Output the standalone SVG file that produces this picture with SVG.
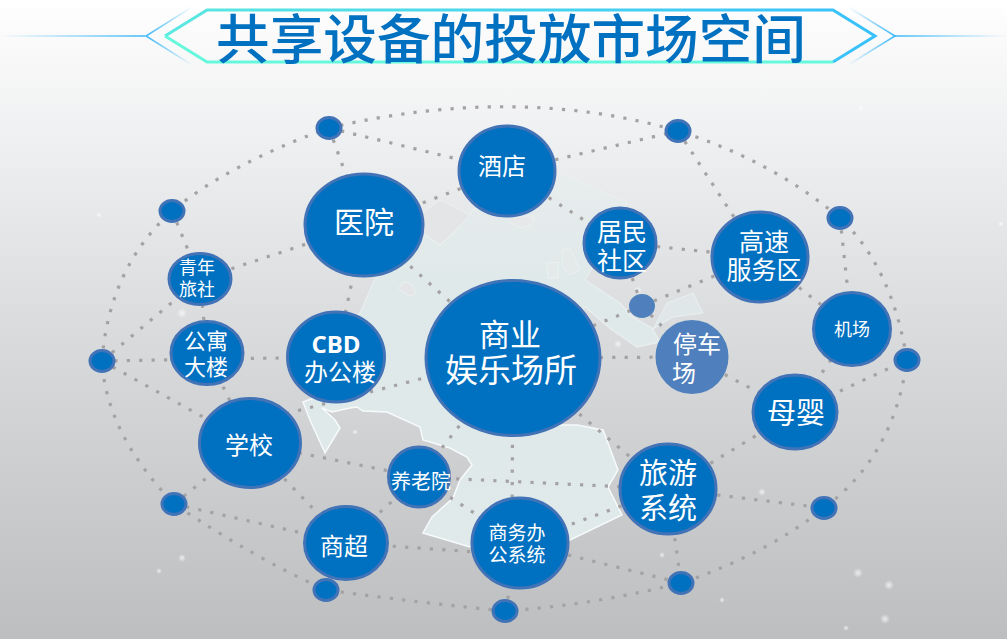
<svg xmlns="http://www.w3.org/2000/svg" width="1007" height="639" viewBox="0 0 1007 639">
<style>
.n{fill:#0070c0;stroke:#4273b6;stroke-width:3}
.l{fill:#4f7fbc;stroke:#4f81bd;stroke-width:2}
.c{fill:none;stroke:#a5a2a4;stroke-width:3.2;stroke-dasharray:3.2 9.2}
.o{stroke:#eef3f4;stroke-width:1;stroke-opacity:.7}
text{fill:#fff;text-anchor:middle;font-family:"Noto Sans CJK SC","Noto Sans",sans-serif;font-weight:400}
.t{fill:#0070c0;font-weight:500;font-size:53px}
</style>
<defs>
<linearGradient id="bg" x1="0" y1="0" x2="0" y2="1"><stop offset="0" stop-color="#fff"/><stop offset=".06" stop-color="#fafafa"/><stop offset=".2" stop-color="#f0f1f2"/><stop offset=".5" stop-color="#dadcde"/><stop offset="1" stop-color="#bcbec0"/></linearGradient>
<linearGradient id="fr" gradientUnits="userSpaceOnUse" x1="165" y1="0" x2="875" y2="0"><stop offset="0" stop-color="#5ae8e0"/><stop offset="1" stop-color="#38c0fb"/></linearGradient>
<linearGradient id="ll" gradientUnits="userSpaceOnUse" x1="0" y1="0" x2="145" y2="0"><stop offset="0" stop-color="#3cb8f8" stop-opacity="0"/><stop offset="1" stop-color="#3cb8f8"/></linearGradient>
<linearGradient id="lr" gradientUnits="userSpaceOnUse" x1="895" y1="0" x2="1007" y2="0"><stop offset="0" stop-color="#3cb8f8"/><stop offset="1" stop-color="#3cb8f8" stop-opacity="0"/></linearGradient>
<linearGradient id="cl" gradientUnits="userSpaceOnUse" x1="146" y1="0" x2="192" y2="0"><stop offset="0" stop-color="#3cb8f8"/><stop offset="1" stop-color="#3cb8f8" stop-opacity="0"/></linearGradient>
<linearGradient id="cr" gradientUnits="userSpaceOnUse" x1="895" y1="0" x2="848" y2="0"><stop offset="0" stop-color="#3cb8f8"/><stop offset="1" stop-color="#3cb8f8" stop-opacity="0"/></linearGradient>
<linearGradient id="m" gradientUnits="userSpaceOnUse" x1="0" y1="170" x2="0" y2="550"><stop offset="0" stop-color="#e6eeee" stop-opacity=".55"/><stop offset=".3" stop-color="#e0eaea" stop-opacity=".9"/><stop offset="1" stop-color="#e0eaea"/></linearGradient>
<linearGradient id="ms" gradientUnits="userSpaceOnUse" x1="0" y1="170" x2="0" y2="550"><stop offset="0" stop-color="#f4f8f8" stop-opacity=".15"/><stop offset=".45" stop-color="#f4f8f8" stop-opacity=".5"/><stop offset=".62" stop-color="#f6fafa"/><stop offset="1" stop-color="#f6fafa"/></linearGradient>
<radialGradient id="s"><stop offset="0" stop-color="#fff" stop-opacity=".7"/><stop offset="1" stop-color="#fff" stop-opacity="0"/></radialGradient>
</defs>
<rect width="1007" height="639" fill="url(#bg)"/>
<g id="stars" fill="url(#s)">
<circle cx="858" cy="573" r="5"/><circle cx="889" cy="585" r="5"/><circle cx="885" cy="619" r="5"/><circle cx="846" cy="628" r="3"/><circle cx="722" cy="600" r="3"/><circle cx="662" cy="555" r="3"/><circle cx="762" cy="492" r="4"/><circle cx="182" cy="313" r="5"/><circle cx="159" cy="571" r="3"/><circle cx="182" cy="558" r="4"/><circle cx="355" cy="432" r="3"/><circle cx="1001" cy="224" r="3"/><circle cx="861" cy="108" r="3"/><circle cx="99" cy="215" r="3"/><circle cx="651" cy="490" r="3"/><circle cx="637" cy="228" r="3"/><circle cx="638" cy="290" r="4"/><circle cx="618" cy="344" r="4"/><circle cx="311" cy="234" r="3"/>
</g>
<g id="map">
<path d="M303,402 L310,420 L325,453 L340,428 L335,420 L322,408 L332,412 L350,408 L357,407 L363,411 L387,412 L420,427 L423,440 L450,448 L467,457 L472,465 L460,480 L453,498 L432,517 L423,533 L470,547 L570,540 L622,515 L608,487 L618,470 L603,430 L577,425 L550,425 L560,340 L585,307 L612,330 L637,347 L660,342 L652,328 L633,317 L620,303 L585,280 L600,255 L627,202 L557,172 L500,190 L473,210 L453,233 L440,245 L423,233 L410,215 L380,270 L373,283 L360,313 L340,330 L322,395 Z" fill="url(#m)" stroke="url(#ms)" stroke-width="1.5"/>
<path class="o" d="M653,329 L667,303 L693,293 L703,313 L673,317 Z" fill="#dfe7e9"/>
<path class="o" d="M423,233 L440,245 L453,233 L470,215 L440,200 L420,215 Z M404,282 Q396,288 402,292 Q416,300 415,291 Q412,282 404,282 Z" fill="#e3e5e7"/>
<path class="o" d="M505,216 Q508,224 522,228 Q535,226 534,216 Z" fill="#e6e8e9"/>
<path class="o" d="M546,263 L558,262 L558,278 L548,278 Z M562,250 Q572,245 575,260 L580,270 L570,275 L563,268 Z" fill="#e4e9ea"/>
</g>
<g id="connectors">
<path class="c" d="M102,361 Q109,268 172,211 Q229,164 329,128 Q516,84 678,131 Q771,160 840,218 Q892,267 907,360 Q894,456 824,508 Q767,554 681,583 Q593,605 505,611 Q422,603 326,590 Q256,559 174,504 Q106,433 102,361"/>
<path class="c" d="M329,128L507,171M329,128L364,225M172,211L200,279L207,353M364,225L200,279M507,171L364,225M507,171L678,131M507,171L620,243M678,131L760,257M620,243L760,257M760,257L852,329M840,218L852,329M760,257L642,306M620,243L642,306M642,306L513,358M642,306L692,357M513,358L692,357M364,225L513,358M364,225L336,357M200,279L102,361M102,361L336,357M102,361L250,443M250,423L513,355M207,353L250,443M250,443L419,477M250,443L346,543M174,504L250,443M174,504L346,543L520,555M419,477L346,543M419,477L513,358M419,477L668,489M419,477L520,543M513,358L512,520M513,358L668,489M668,489L520,543M668,489L795,412M692,357L795,412M795,412L907,360M852,329L795,412M668,489L824,508M668,489L681,583M520,543L681,583M505,611L520,543"/>
</g>
<g id="title">
<path d="M0,36H145" stroke="url(#ll)" stroke-width="1.5"/><path d="M895,36H1007" stroke="url(#lr)" stroke-width="1.5"/>
<path d="M192,7L146,36L192,65" fill="none" stroke="url(#cl)" stroke-width="1.5"/>
<path d="M848,7L895,36L848,65" fill="none" stroke="url(#cr)" stroke-width="1.5"/>
<path d="M165,36L207,10H833L875,36L833,62" fill="none" stroke="url(#fr)" stroke-width="3"/>
<path d="M165,36L207,62H833" fill="none" stroke="#66f8dc" stroke-width="3"/>
<text class="t" x="511" y="59" textLength="590" lengthAdjust="spacingAndGlyphs">共享设备的投放市场空间</text>
</g>
<g id="dot1"><ellipse class="n" cx="329" cy="128" rx="12" ry="10.5"/></g>
<g id="dot2"><ellipse class="n" cx="678" cy="131" rx="12" ry="10.5"/></g>
<g id="dot3"><ellipse class="n" cx="172" cy="211" rx="12" ry="10.5"/></g>
<g id="dot4"><ellipse class="n" cx="840" cy="218" rx="12" ry="10.5"/></g>
<g id="dot5"><ellipse class="l" cx="642" cy="306" rx="12" ry="11"/></g>
<g id="dot6"><ellipse class="n" cx="102" cy="361" rx="12" ry="10.5"/></g>
<g id="dot7"><ellipse class="n" cx="907" cy="360" rx="12" ry="10.5"/></g>
<g id="dot8"><ellipse class="n" cx="174" cy="504" rx="12" ry="10.5"/></g>
<g id="dot9"><ellipse class="n" cx="824" cy="508" rx="12" ry="10.5"/></g>
<g id="dot10"><ellipse class="n" cx="326" cy="590" rx="12" ry="10.5"/></g>
<g id="dot11"><ellipse class="n" cx="681" cy="583" rx="12" ry="10.5"/></g>
<g id="dot12"><ellipse class="n" cx="505" cy="611" rx="12" ry="10.5"/></g>
<g id="hotel"><ellipse class="n" cx="507" cy="171" rx="48" ry="45"/><text x="502" y="175" font-size="24">酒店</text></g>
<g id="hospital"><ellipse class="n" cx="364" cy="225" rx="59" ry="51"/><text x="364" y="233" font-size="30">医院</text></g>
<g id="residential"><ellipse class="n" cx="620" cy="243" rx="36" ry="35"/><text x="622" y="241" font-size="25">居民</text><text x="622" y="270" font-size="25">社区</text></g>
<g id="highway"><ellipse class="n" cx="760" cy="257" rx="48" ry="45"/><text x="764" y="251" font-size="25">高速</text><text x="764" y="279" font-size="25">服务区</text></g>
<g id="youth"><ellipse class="n" cx="200" cy="279" rx="31" ry="25.5"/><text x="197" y="274" font-size="18" font-weight="500">青年</text><text x="197" y="296" font-size="18" font-weight="500">旅社</text></g>
<g id="airport"><ellipse class="n" cx="852" cy="329" rx="38.5" ry="36.5"/><text x="852" y="336" font-size="18" font-weight="500">机场</text></g>
<g id="apartment"><ellipse class="n" cx="207" cy="353" rx="36" ry="31.5"/><text x="206" y="349" font-size="22">公寓</text><text x="206" y="375" font-size="22">大楼</text></g>
<g id="cbd"><ellipse class="n" cx="336" cy="357" rx="48.5" ry="45"/><text x="336" y="353" font-size="24" style="font-family:'Open Sans',sans-serif;font-weight:700">CBD</text><text x="340" y="381" font-size="24">办公楼</text></g>
<g id="mall"><ellipse class="n" cx="513" cy="358" rx="87" ry="77.5"/><text x="510" y="346" font-size="31">商业</text><text x="511" y="382" font-size="33">娱乐场所</text></g>
<g id="parking"><ellipse class="l" cx="692" cy="357" rx="35.5" ry="36"/><text x="697" y="353" font-size="24">停车</text><text x="684" y="382" font-size="24">场</text></g>
<g id="baby"><ellipse class="n" cx="795" cy="412" rx="42" ry="37"/><text x="796" y="424" font-size="29">母婴</text></g>
<g id="school"><ellipse class="n" cx="250" cy="443" rx="50.5" ry="44.5"/><text x="249" y="454" font-size="24">学校</text></g>
<g id="elderly"><ellipse class="n" cx="419" cy="477" rx="30.5" ry="30"/><text x="421" y="489" font-size="20">养老院</text></g>
<g id="tourism"><ellipse class="n" cx="668" cy="489" rx="48" ry="45"/><text x="668" y="484" font-size="29">旅游</text><text x="668" y="519" font-size="29">系统</text></g>
<g id="market"><ellipse class="n" cx="346" cy="543" rx="41.5" ry="36.5"/><text x="344" y="555" font-size="24">商超</text></g>
<g id="office"><ellipse class="n" cx="520" cy="543" rx="48" ry="45"/><text x="517" y="540" font-size="19" font-weight="500">商务办</text><text x="517" y="562" font-size="19" font-weight="500">公系统</text></g>
</svg>
